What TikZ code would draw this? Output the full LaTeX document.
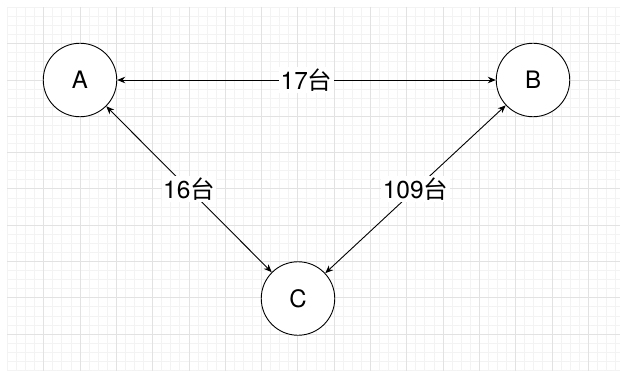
\documentclass[tikz,border=0pt]{standalone}
\usepackage{fontspec}
\setmainfont{TeX Gyre Heros}
\newfontfamily\cjkfont{Noto Sans CJK SC}
\usetikzlibrary{arrows.meta}
\begin{document}
\begin{tikzpicture}[x=1pt,y=-1pt,
  gridminor/.style={draw={rgb,255:red,243;green,243;blue,243},line width=0.6pt},
  gridmajor/.style={draw={rgb,255:red,226;green,226;blue,226},line width=0.6pt},
  station/.style={circle,draw=black,line width=0.9pt,fill=white,minimum size=73.5pt,
    inner sep=0pt,font=\fontsize{24}{26}\selectfont},
  link/.style={line width=0.9pt,{Stealth[length=8pt,width=6.5pt]}-{Stealth[length=8pt,width=6.5pt]}},
  count/.style={fill=white,inner sep=1.5pt,font=\fontsize{24.5}{26}\selectfont}]
\useasboundingbox (0,0) rectangle (620,371);
\fill[white] (0,0) rectangle (620,371);
% background grid: fine lines every 9 px, heavier lines every fourth one
\foreach \i in {0,...,67} \draw[gridminor] ({7.3+9.075*\i},7.3) -- ({7.3+9.075*\i},371);
\foreach \i in {0,...,40} \draw[gridminor] (7.3,{7.3+9.075*\i}) -- (620,{7.3+9.075*\i});
\foreach \j in {1,...,16} \draw[gridmajor] ({7.3+36.3*\j},7.3) -- ({7.3+36.3*\j},371);
\foreach \j in {1,...,9} \draw[gridmajor] (7.3,{7.3+36.3*\j}) -- (620,{7.3+36.3*\j});
% stations
\node[station] (A) at (80,80) {A};
\node[station] (B) at (533,80) {B};
\node[station] (C) at (298,298.5) {C};
% links with vehicle counts
\draw[link] (A) -- (B) node[count,midway] {17{\cjkfont 台}};
\draw[link] (A) -- (C) node[count,midway] {16{\cjkfont 台}};
\draw[link] (B) -- (C) node[count,midway] {109{\cjkfont 台}};
\end{tikzpicture}
\end{document}
